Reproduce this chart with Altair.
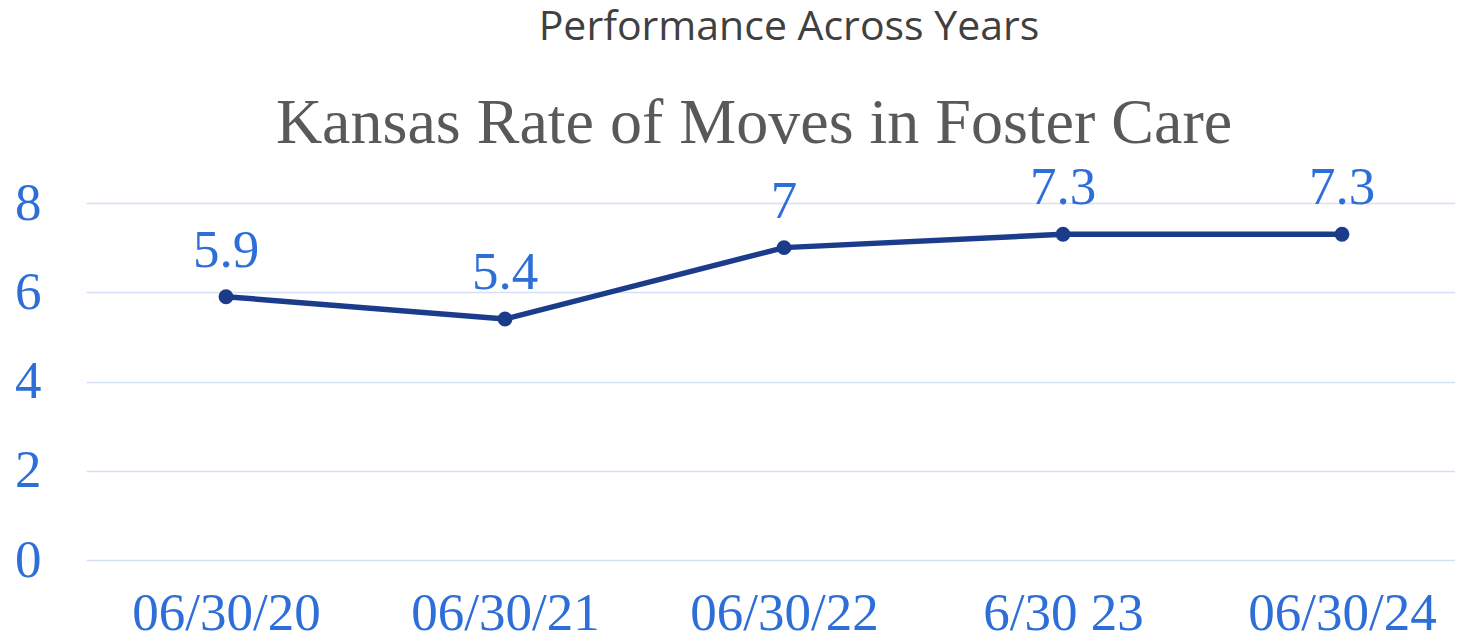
import altair as alt
import pandas as pd

dates = ["06/30/20", "06/30/21", "06/30/22", "6/30 23", "06/30/24"]
rates = [5.9, 5.4, 7, 7.3, 7.3]
rate_labels = ["5.9", "5.4", "7", "7.3", "7.3"]
y_ticks = [0, 2, 4, 6, 8]
chart_title = ["Performance Across Years"]
chart_subtitle = ["Kansas Rate of Moves in Foster Care"]

df = pd.DataFrame({"date": dates, "rate": rates, "label": rate_labels})

BLUE = "#2D6ED8"
NAVY = "#1B3B8B"
SERIF = "Liberation Serif"

W = 1369
H = 357

x_enc = alt.X(
    "date:N",
    sort=dates,
    scale=alt.Scale(type="point", padding=0.4534, align=0.5534),
    axis=alt.Axis(
        title=None, labelAngle=0, labelFont=SERIF, labelFontSize=53,
        labelColor=BLUE, ticks=False, domain=False, grid=False,
        labelPadding=27, labelLimit=0,
    ),
)
y_enc = alt.Y(
    "rate:Q",
    scale=alt.Scale(domain=[0, 8]),
    axis=alt.Axis(
        values=y_ticks, title=None, labelFont=SERIF, labelFontSize=53,
        labelColor=BLUE, ticks=False, domain=False, gridColor="#D6E0F4",
        gridWidth=1.5, labelPadding=45,
    ),
)

base = alt.Chart(df)
line = base.mark_line(color=NAVY, strokeWidth=5.5).encode(x=x_enc, y=y_enc)
pts = base.mark_point(filled=True, color=NAVY, size=220, opacity=1).encode(x=x_enc, y=y_enc)
labels = base.mark_text(
    font=SERIF, fontSize=53, color=BLUE, dy=-30, baseline="alphabetic", align="center"
).encode(x=x_enc, y=y_enc, text="label:N")

title_mark = alt.Chart(pd.DataFrame({"t": chart_title})).mark_text(
    font="Open Sans", fontSize=41, color="#404040", baseline="alphabetic", align="center"
).encode(text="t:N", x=alt.value(703), y=alt.value(-163))

subtitle_mark = alt.Chart(pd.DataFrame({"t": chart_subtitle})).mark_text(
    font=SERIF, fontSize=64, color="#595959", baseline="alphabetic", align="center"
).encode(text="t:N", x=alt.value(668), y=alt.value(-60))

chart = alt.layer(line, pts, labels, title_mark, subtitle_mark).properties(
    width=W,
    height=H,
    autosize=alt.AutoSizeParams(type="none"),
    padding={"left": 78, "top": 195, "right": 0, "bottom": 76},
    background="white",
).configure_view(stroke=None)

chart.save("out.html", embed_options={"renderer": "svg", "actions": False})
